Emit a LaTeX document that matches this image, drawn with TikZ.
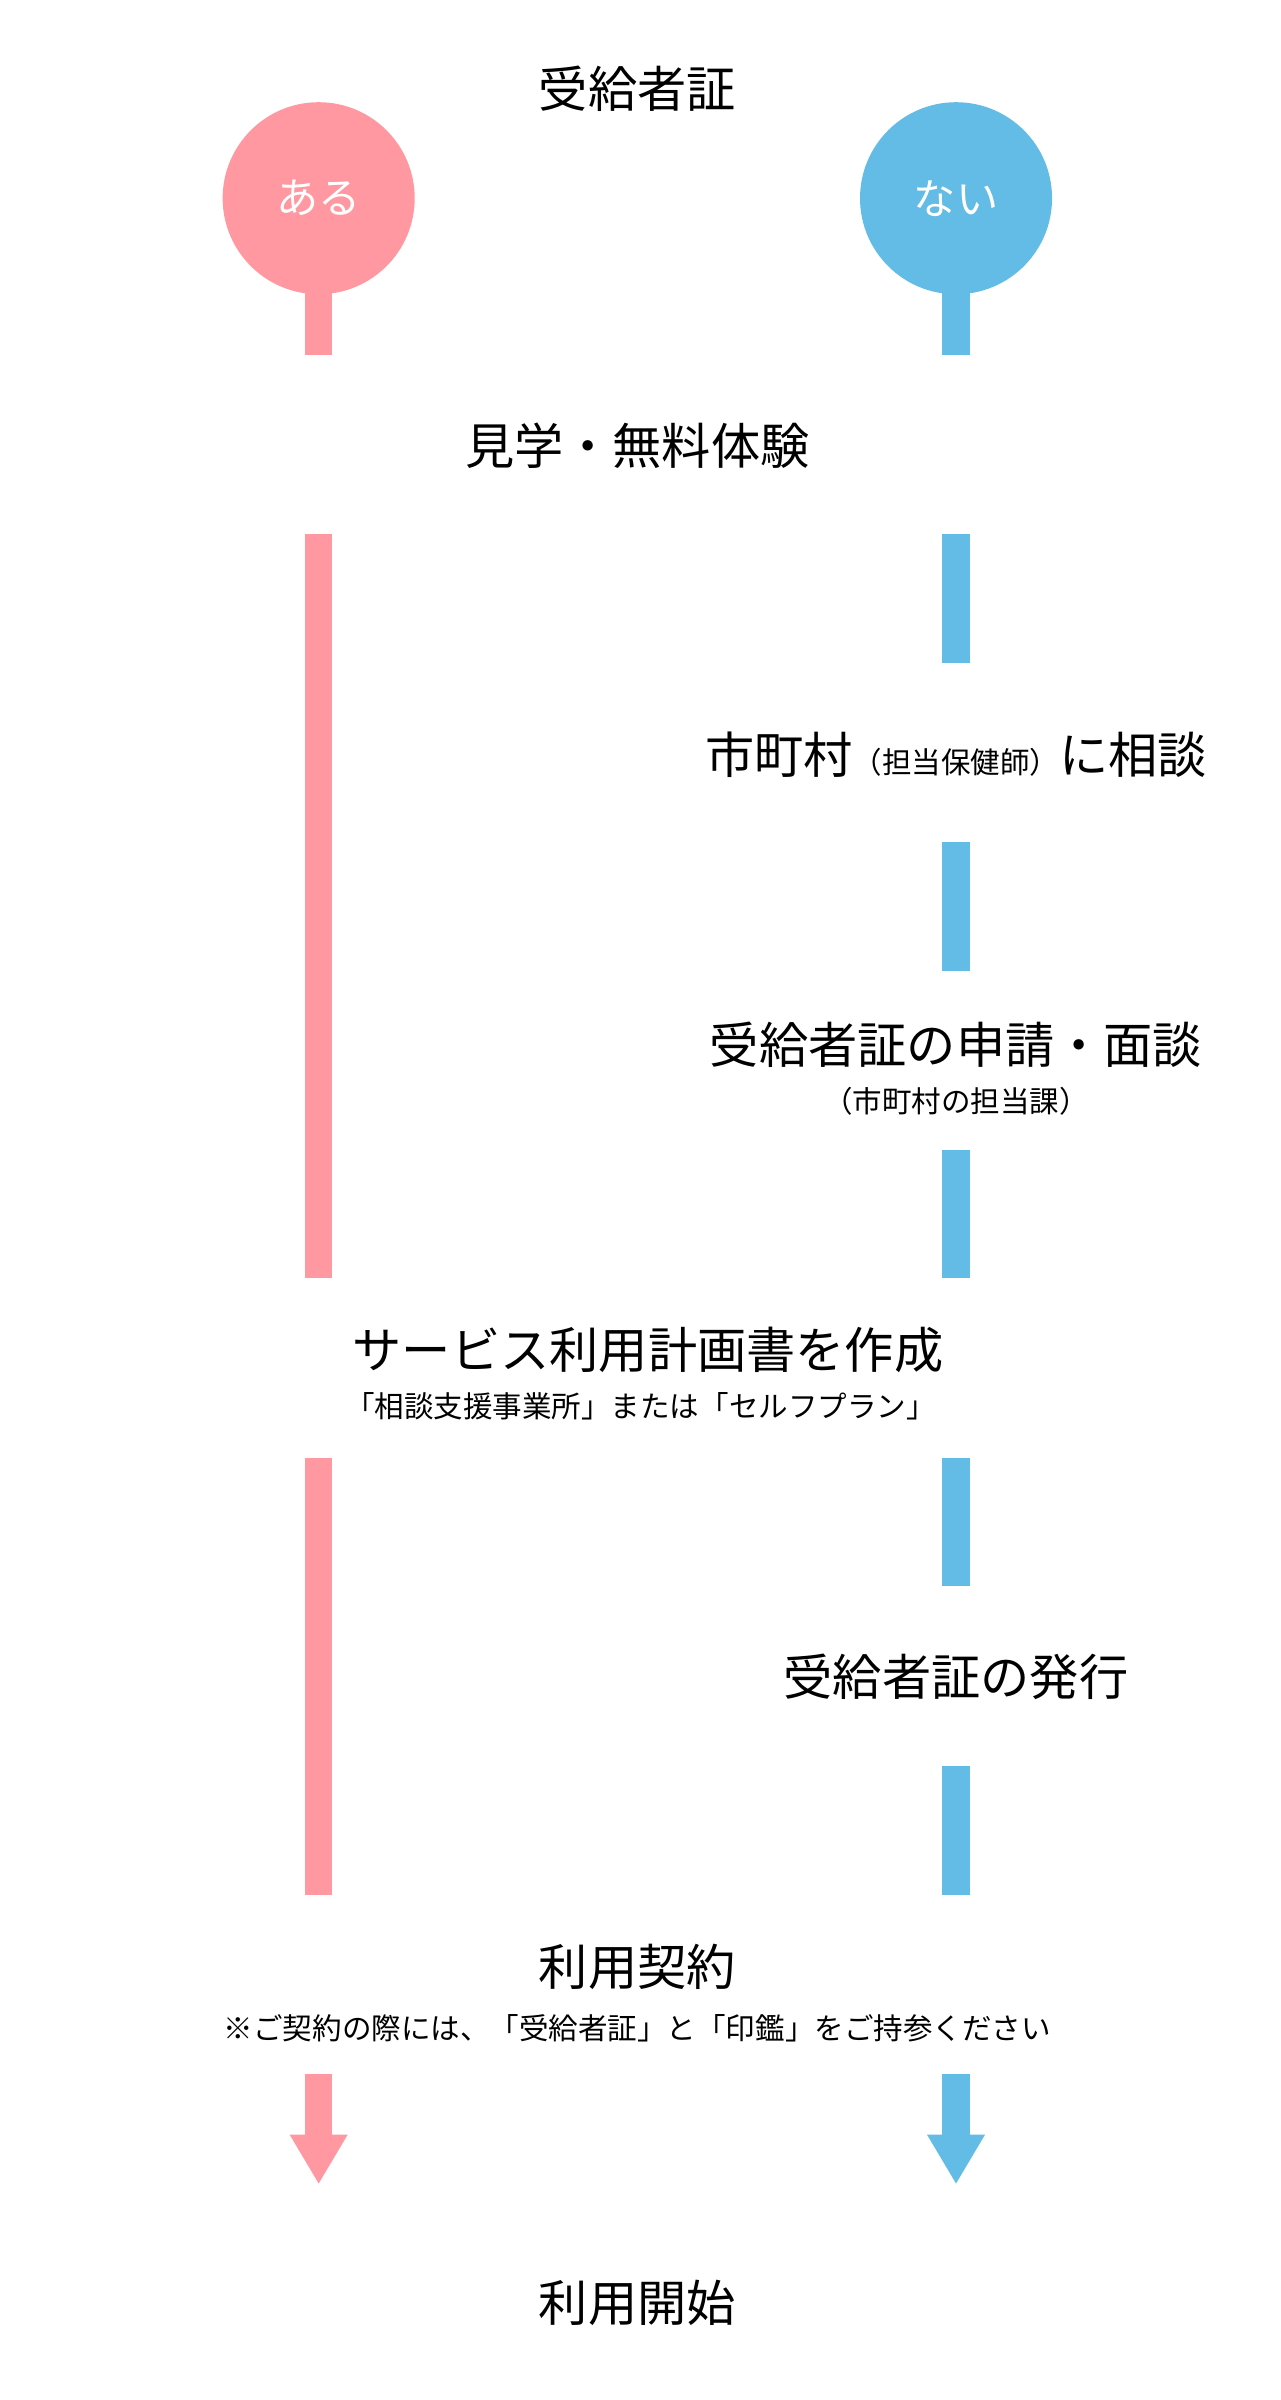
\documentclass[tikz,border=0pt]{standalone}
\usepackage{fontspec}
\setmainfont{Noto Sans CJK JP}
\usetikzlibrary{calc}
\definecolor{pinkc}{HTML}{FF98A0}
\definecolor{bluec}{HTML}{63BCE5}
\begin{document}
\begin{tikzpicture}[x=0.01525cm, y=-0.01525cm,
	            every node/.style={
	            align = center,
	            inner sep=0pt,
	            font=\fontsize{14pt}{17pt}\selectfont
	            },
	            small/.style={font=\fontsize{8.4pt}{10pt}\selectfont},
	            bar/.style={line width=0.2745cm}]

	        \useasboundingbox (0,0) rectangle (840,1574);

	        \node[circle, fill=pinkc, minimum size=1.92cm, text=white, font=\fontsize{12pt}{14pt}\selectfont] (yes) at (209,130) {ある};
	        \node[circle, fill=bluec, minimum size=1.92cm, text=white, font=\fontsize{12pt}{14pt}\selectfont] (no) at (627,130) {ない};

	        \node (title) at (418,58) {受給者証};
	        \node (visit) at (418,292) {見学・無料体験};
	        \node (ask) at (627,495) {市町村{\fontsize{8.4pt}{10pt}\selectfont（担当保健師）}に相談};
	        \node (apply) at (627,685) {受給者証の申請・面談};
	        \node[small] (applynote) at (627,722) {（市町村の担当課）};
	        \node (plan) at (425,885) {サービス利用計画書を作成};
	        \node[small] (plannote) at (420,922) {「相談支援事業所」または「セルフプラン」};
	        \node (issue) at (627,1100) {受給者証の発行};
	        \node (contract) at (418,1290) {利用契約};
	        \node[small] (contractnote) at (418,1330) {※ご契約の際には、「受給者証」と「印鑑」をご持参ください};
	        \node (start) at (418,1510) {利用開始};

	        % pink side
	        \draw[bar, pinkc] (209,185) -- (209,233);
	        \draw[bar, pinkc] (209,350) -- (209,838);
	        \draw[bar, pinkc] (209,956) -- (209,1243);
	        \draw[bar, pinkc] (209,1360) -- (209,1401);
	        \fill[pinkc] (190,1400) -- (228,1400) -- (209,1432) -- cycle;

	        % blue side
	        \draw[bar, bluec] (627,185) -- (627,233);
	        \draw[bar, bluec] (627,350) -- (627,435);
	        \draw[bar, bluec] (627,552) -- (627,637);
	        \draw[bar, bluec] (627,754) -- (627,838);
	        \draw[bar, bluec] (627,956) -- (627,1040);
	        \draw[bar, bluec] (627,1158) -- (627,1243);
	        \draw[bar, bluec] (627,1360) -- (627,1401);
	        \fill[bluec] (608,1400) -- (646,1400) -- (627,1432) -- cycle;

	    \end{tikzpicture}
\end{document}
